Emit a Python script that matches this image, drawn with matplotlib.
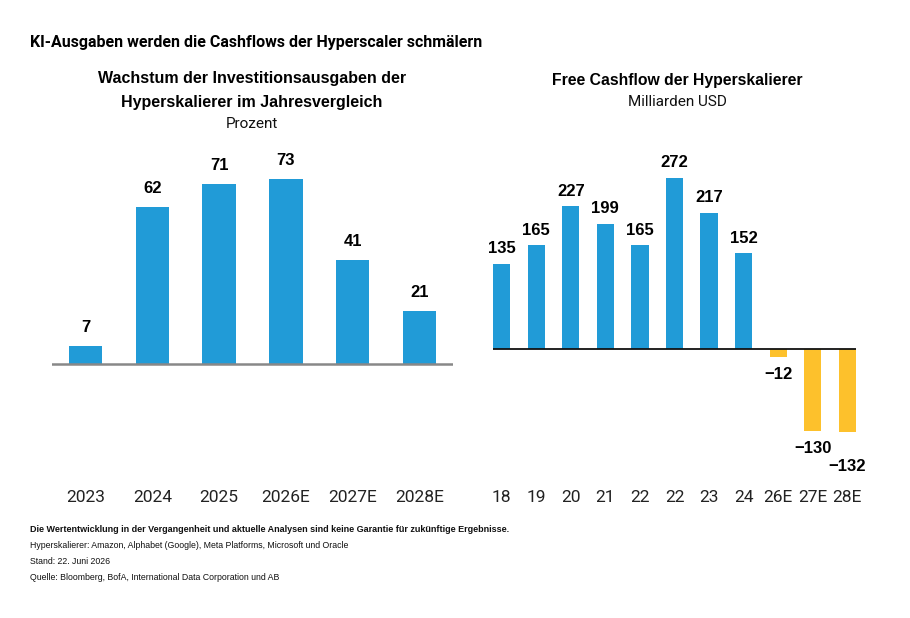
import matplotlib
matplotlib.use("Agg")
import matplotlib.pyplot as plt
import numpy as np

# left chart: capex growth, percent
capex_years = ["2023", "2024", "2025", "2026E", "2027E", "2028E"]
capex_growth = [7, 62, 71, 73, 41, 21]

# right chart: free cash flow, billion USD
fcf_years = ["18", "19", "20", "21", "22", "22", "23", "24", "26E", "27E", "28E"]
fcf_values = [135, 165, 227, 199, 165, 272, 217, 152, -12, -130, -132]

blue = "#219bd7"
yellow = "#fdc12c"
W, H = 910, 618

fig = plt.figure(figsize=(W / 100, H / 100), dpi=100)


def fx(px):
    return px / W


def fy(py):
    return 1 - py / H


# --- left axes ---
px_per_unit_l = 2.53
base_l = 364
bottom_px = 487
top_l = 80
axl = fig.add_axes([fx(52), fy(bottom_px), fx(453 - 52),
                    (bottom_px - (base_l - top_l * px_per_unit_l)) / H])
xl = np.arange(len(capex_years))
axl.bar(xl, capex_growth, width=0.5, color=blue)
axl.axhline(0, color="#888888", lw=1.8)
axl.set_xlim(-0.5, len(capex_years) - 0.5)
axl.set_ylim(-(bottom_px - base_l) / px_per_unit_l, top_l)
for x, v in zip(xl, capex_growth):
    axl.annotate(str(v), (x, v), xytext=(0, 8), textcoords="offset points",
                 ha="center", va="bottom", fontsize=12, fontweight="bold",
                 family="Liberation Sans")

# --- right axes ---
px_per_unit_r = 0.629
base_r = 349
top_r = 300
axr = fig.add_axes([fx(493), fy(bottom_px), fx(856 - 493),
                    (bottom_px - (base_r - top_r * px_per_unit_r)) / H])
xr = np.arange(len(fcf_years))
cols = [blue if v >= 0 else yellow for v in fcf_values]
axr.bar(xr, fcf_values, width=0.5, color=cols)
axr.axhline(0, color="#111111", lw=1.3)
axr.set_xlim(-0.25, len(fcf_years) - 0.75)
axr.set_ylim(-(bottom_px - base_r) / px_per_unit_r, top_r)
extra_down = {10: 12}
for i, (x, v) in enumerate(zip(xr, fcf_values)):
    if v >= 0:
        axr.annotate(str(v), (x, v), xytext=(0, 5.5), textcoords="offset points",
                     ha="center", va="bottom", fontsize=12, fontweight="bold",
                     family="Liberation Sans")
    else:
        axr.annotate("\u2212" + str(-v), (x, v),
                     xytext=(0, -7.5 - extra_down.get(i, 0)), textcoords="offset points",
                     ha="center", va="top", fontsize=12, fontweight="bold",
                     family="Liberation Sans")

for ax, labels, xs in [(axl, capex_years, xl), (axr, fcf_years, xr)]:
    for s in ax.spines.values():
        s.set_visible(False)
    ax.set_yticks([])
    ax.set_xticks(xs)
    ax.set_xticklabels(labels, fontsize=12.5, color="#222222", family="Roboto")
    ax.tick_params(axis="x", length=0, pad=2)

# titles
fig.text(fx(30), fy(42), "KI-Ausgaben werden die Cashflows der Hyperscaler schmälern",
         ha="left", va="center", fontsize=11.5, fontweight="bold", family="Roboto")
fig.text(fx(252), fy(79), "Wachstum der Investitionsausgaben der",
         ha="center", va="center", fontsize=11.5, fontweight="bold", family="Liberation Sans")
fig.text(fx(252), fy(102), "Hyperskalierer im Jahresvergleich",
         ha="center", va="center", fontsize=11.5, fontweight="bold", family="Liberation Sans")
fig.text(fx(252), fy(124), "Prozent", ha="center", va="center", fontsize=11,
         family="Roboto", color="#111111")
fig.text(fx(677), fy(80), "Free Cashflow der Hyperskalierer",
         ha="center", va="center", fontsize=11.3, fontweight="bold", family="Liberation Sans")
fig.text(fx(677), fy(102), "Milliarden USD", ha="center", va="center", fontsize=11,
         family="Roboto", color="#111111")

# footnotes
notes = [
    ("Die Wertentwicklung in der Vergangenheit und aktuelle Analysen sind keine Garantie für zukünftige Ergebnisse.", "bold", 6.5),
    ("Hyperskalierer: Amazon, Alphabet (Google), Meta Platforms, Microsoft und Oracle", "normal", 6.3),
    ("Stand: 22. Juni 2026", "normal", 6.3),
    ("Quelle: Bloomberg, BofA, International Data Corporation und AB", "normal", 6.3),
]
for i, (t, w, s) in enumerate(notes):
    fig.text(fx(30), fy(529 + i * 16.2), t, ha="left", va="center", fontsize=s,
             fontweight=w, family="Liberation Sans", color="#111111")

fig.savefig("out.png", dpi=100)
